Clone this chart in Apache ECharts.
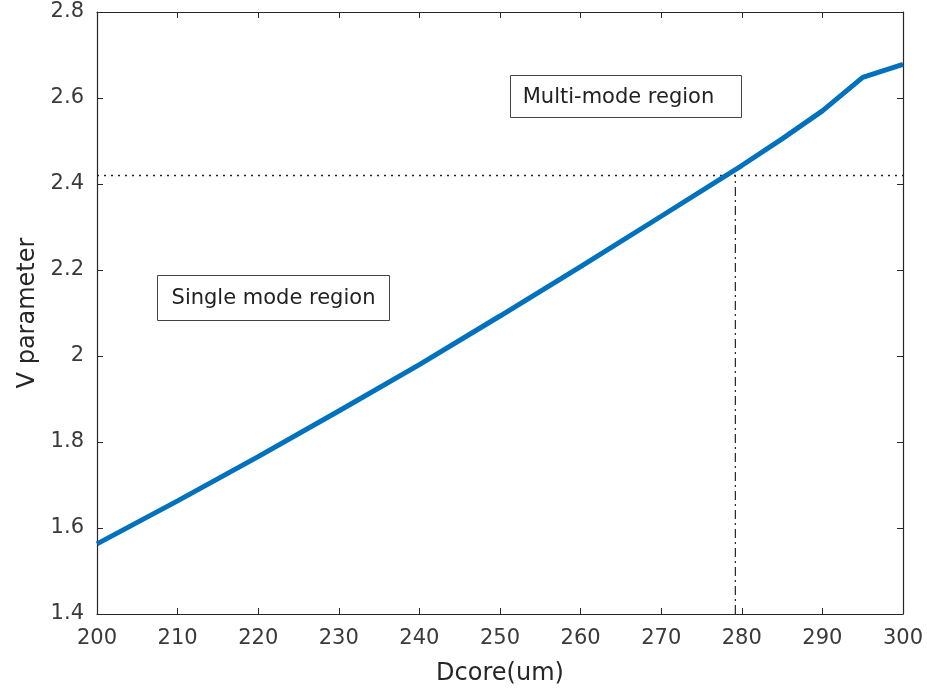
<!DOCTYPE html>
<html>
<head>
<meta charset="utf-8">
<script src="https://cdn.jsdelivr.net/npm/echarts@6/dist/echarts.min.js"></script>
<style>html,body{margin:0;padding:0;background:#fff}#c{width:927px;height:695px}</style>
</head>
<body>
<div id="c"></div>
<script>
const dcore = [200, 210, 220, 230, 240, 250, 260, 270, 280, 285, 290, 295, 300];
const vParam = [1.563, 1.663, 1.766, 1.872, 1.980, 2.093, 2.208, 2.325, 2.443, 2.505, 2.570, 2.648, 2.678];
const cutoffV = 2.42;
const cutoffD = 279.2;
const xTicks = [200, 210, 220, 230, 240, 250, 260, 270, 280, 290, 300];
const yTicks = [1.4, 1.6, 1.8, 2, 2.2, 2.4, 2.6, 2.8];
const regionLabels = ['Single mode region', 'Multi-mode region'];

const chart = echarts.init(document.getElementById('c'));
const axisCol = '#262626';
const font = '"DejaVu Sans", Arial, sans-serif';
const baseAxis = {
  axisLine: {show: true, lineStyle: {color: axisCol, width: 1.2}},
  axisTick: {show: true, inside: true, length: 6, lineStyle: {color: axisCol}},
  splitLine: {show: false}
};
chart.setOption({
  animation: false,
  backgroundColor: '#fff',
  grid: {left: 97, right: 24, top: 12, bottom: 81},
  xAxis: [
    Object.assign({}, baseAxis, {type: 'value', min: xTicks[0], max: xTicks[xTicks.length - 1], interval: 10,
      name: 'Dcore(um)', nameLocation: 'middle', nameGap: 48,
      nameTextStyle: {color: axisCol, fontSize: 24, fontFamily: font},
      axisLabel: {color: '#3a3a3a', fontSize: 21, fontFamily: font, margin: 14}}),
    Object.assign({}, baseAxis, {type: 'value', min: xTicks[0], max: xTicks[xTicks.length - 1], interval: 10, position: 'top',
      axisLabel: {show: false}})
  ],
  yAxis: [
    Object.assign({}, baseAxis, {type: 'value', min: yTicks[0], max: yTicks[yTicks.length - 1], interval: 0.2,
      name: 'V parameter', nameLocation: 'middle', nameGap: 57,
      nameTextStyle: {color: axisCol, fontSize: 24, fontFamily: font},
      axisLabel: {color: '#3a3a3a', fontSize: 21, fontFamily: font, margin: 13,
        formatter: v => String(parseFloat(v.toFixed(1)))}}),
    Object.assign({}, baseAxis, {type: 'value', min: yTicks[0], max: yTicks[yTicks.length - 1], interval: 0.2, position: 'right',
      axisLabel: {show: false}})
  ],
  series: [
    {type: 'line', data: dcore.map((d, i) => [d, vParam[i]]), symbol: 'none',
      lineStyle: {color: '#0072BD', width: 5}, z: 5,
      markLine: {silent: true, symbol: 'none', label: {show: false},
        lineStyle: {color: '#222', type: [2, 5], width: 1.3},
        data: [{yAxis: cutoffV}]}},
    {type: 'line', data: [[cutoffD, yTicks[0]], [cutoffD, cutoffV]], symbol: 'none',
      lineStyle: {color: '#222', width: 1.2, type: [9, 4, 2, 4]}, z: 3}
  ],
  graphic: [
    {type: 'group', left: 157, top: 275, children: [
      {type: 'rect', shape: {x: 0, y: 0, width: 232, height: 45}, style: {fill: '#fff', stroke: '#444', lineWidth: 1}},
      {type: 'text', style: {x: 116, y: 23, text: regionLabels[0], align: 'center', verticalAlign: 'middle', fill: '#222', font: '21px "DejaVu Sans", Arial, sans-serif'}}
    ]},
    {type: 'group', left: 510, top: 75, children: [
      {type: 'rect', shape: {x: 0, y: 0, width: 231, height: 42}, style: {fill: '#fff', stroke: '#444', lineWidth: 1}},
      {type: 'text', style: {x: 108, y: 22, text: regionLabels[1], align: 'center', verticalAlign: 'middle', fill: '#222', font: '21px "DejaVu Sans", Arial, sans-serif'}}
    ]}
  ]
});
</script>
</body>
</html>
